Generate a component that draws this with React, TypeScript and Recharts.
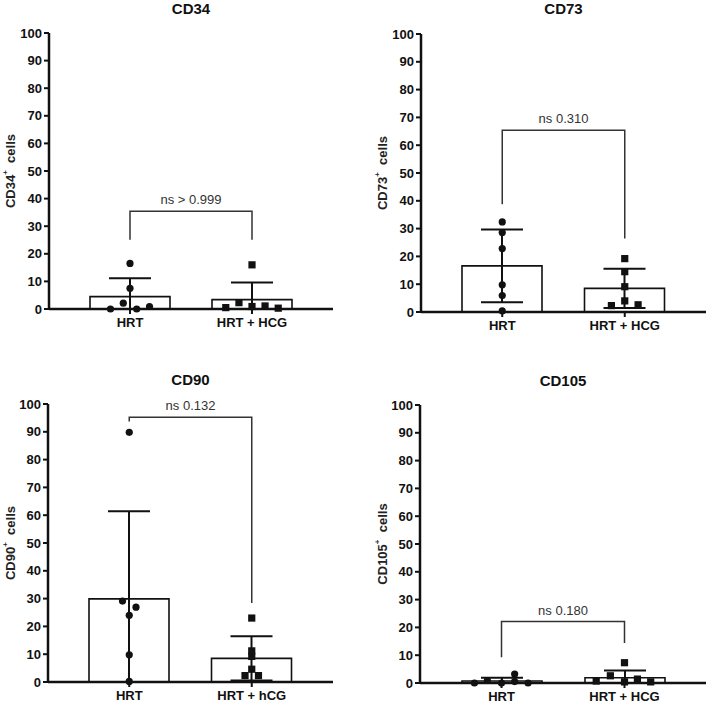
import React from 'react';
import { ComposedChart, Bar, ErrorBar, Scatter, XAxis, YAxis } from 'recharts';

const FONT = '"Liberation Sans", Arial, Helvetica, sans-serif';

const Y_TICKS = [0, 10, 20, 30, 40, 50, 60, 70, 80, 90, 100];
const GROUPS_TOP = ['HRT', 'HRT + HCG'];
const GROUPS_CD90 = ['HRT', 'HRT + hCG'];
const GROUPS_CD105 = ['HRT', 'HRT + HCG'];

// CD34
const CD34_HRT = [0, 2.1, 16.5, 7.5, 0, 0.9];
const CD34_HCG = [0.5, 2.3, 16.0, 0.9, 1.1, 0.3];
const CD34_MEAN = [4.5, 3.4];
const CD34_SD = [6.6, 6.2];
const CD34_BRACKET = [25.1, 35.4, 25.1];
const CD34_P = 'ns > 0.999';

// CD73
const CD73_HRT = [32.4, 28.6, 22.8, 9.8, 5.9, 0.4];
const CD73_HCG = [19.2, 14.5, 9.1, 4.0, 2.3, 2.6];
const CD73_MEAN = [16.6, 8.5];
const CD73_SD = [13.1, 7.1];
const CD73_BRACKET = [38.8, 65.4, 26.4];
const CD73_P = 'ns 0.310';

// CD90
const CD90_HRT = [89.8, 29.1, 26.9, 24.0, 9.8, 0.2];
const CD90_HCG = [23.0, 11.2, 9.2, 4.6, 2.3, 2.3];
const CD90_MEAN = [29.9, 8.5];
const CD90_SD = [31.5, 8.0];
const CD90_BRACKET = [93.7, 95.2, 28.4];
const CD90_P = 'ns 0.132';

// CD105
const CD105_HRT = [0, 0.9, 0, 3.2, 0.5, 0];
const CD105_HCG = [0.7, 2.6, 7.3, 0.4, 1.4, 0.4];
const CD105_MEAN = [0.7, 1.9];
const CD105_SD = [1.2, 2.6];
const CD105_BRACKET = [9.3, 22.1, 14.4];
const CD105_P = 'ns 0.180';

// horizontal spread of scatter points (in category units, layout only)
const SPREAD_34_HRT = [-0.16, -0.055, 0, 0, 0.055, 0.16];
const SPREAD_34_HCG = [-0.215, -0.107, 0, 0, 0.107, 0.215];
const SPREAD_73_HRT = [0, 0, 0, 0, 0, 0];
const SPREAD_73_HCG = [0, 0, 0, 0, -0.109, 0.109];
const SPREAD_90_HRT = [0, -0.055, 0.055, 0, 0, 0];
const SPREAD_90_HCG = [0, 0, 0, 0, -0.055, 0.055];
const SPREAD_105_HRT = [-0.22, -0.115, 0, 0.107, 0.107, 0.216];
const SPREAD_105_HCG = [-0.23, -0.115, 0, 0, 0.105, 0.213];

const INK = '#111';
const PAD = { left: 20, right: 20 };

const circleShape = (p: any) => <circle cx={p.cx} cy={p.cy} r={3.6} fill={INK} />;
const squareShape = (p: any) => <rect x={p.cx - 3.6} y={p.cy - 3.6} width={7.2} height={7.2} fill={INK} />;
const noShape = () => <g />;

type PanelProps = {
  title: string;
  marker: string;
  groups: string[];
  hrt: number[];
  hcg: number[];
  hrtSpread: number[];
  hcgSpread: number[];
  mean: number[];
  sd: number[];
  bracket: number[];
  pText: string;
  left: number;
  top: number;
  width: number;
  height: number;
  margin: { top: number; right: number; bottom: number; left: number };
  titleTop: number;
};

function Panel(props: PanelProps) {
  const { title, marker, groups, hrt, hcg, hrtSpread, hcgSpread, mean, sd, bracket, pText, left, top, width, height, margin, titleTop } = props;
  const barData = groups.map((g, i) => ({ group: g, mean: mean[i], err: [Math.min(sd[i], mean[i]), sd[i]] }));
  const hrtPts = hrt.map((v, i) => ({ x: 0 + hrtSpread[i], y: v }));
  const hcgPts = hcg.map((v, i) => ({ x: 1 + hcgSpread[i], y: v }));
  const bracketPts = [
    { x: 0, y: bracket[0] },
    { x: 0, y: bracket[1] },
    { x: 1, y: bracket[1] },
    { x: 1, y: bracket[2] },
  ];
  const labelPt = [{ x: 0.5, y: bracket[1] }];
  const plotLeft = margin.left + 40;
  const plotWidth = width - plotLeft - margin.right;

  const textShape = (p: any) => (
    <text x={p.cx} y={p.cy - 7} textAnchor="middle" fontFamily={FONT} fontSize={13} fill="#333">
      {pText}
    </text>
  );

  const yLabel = (p: any) => {
    const vb = p.viewBox || {};
    const cy = (vb.y || 0) + (vb.height || 0) / 2;
    const x = 10;
    return (
      <text
        x={x}
        y={cy}
        transform={`rotate(-90, ${x}, ${cy})`}
        textAnchor="middle"
        dominantBaseline="central"
        fontFamily={FONT}
        fontSize={13}
        fontWeight={700}
        fill="#222"
      >
        {marker}
        <tspan dy={-5} fontSize={8}>+</tspan>
        <tspan dy={5}>{'\u00a0\u00a0cells'}</tspan>
      </text>
    );
  };

  return (
    <div style={{ position: 'absolute', left, top, width, height }}>
      <div
        style={{
          position: 'absolute',
          left: plotLeft,
          width: plotWidth,
          top: titleTop,
          textAlign: 'center',
          fontFamily: FONT,
          fontWeight: 700,
          fontSize: 15,
          lineHeight: '15px',
          color: INK,
        }}
      >
        {title}
      </div>
      <ComposedChart width={width} height={height} data={barData} margin={margin}>
        <XAxis
          xAxisId={0}
          dataKey="group"
          type="category"
          padding={PAD}
          interval={0}
          height={20}
          axisLine={{ stroke: INK, strokeWidth: 2.5 }}
          tickLine={{ stroke: INK, strokeWidth: 2 }}
          tickSize={5}
          tickMargin={4}
          tick={{ fill: INK, fontSize: 13, fontWeight: 700, fontFamily: FONT }}
        />
        <XAxis xAxisId="num" type="number" dataKey="x" domain={[-0.5, 1.5]} hide padding={PAD} />
        <YAxis
          type="number"
          domain={[0, 100]}
          ticks={Y_TICKS}
          interval={0}
          width={40}
          axisLine={{ stroke: INK, strokeWidth: 2.5 }}
          tickLine={{ stroke: INK, strokeWidth: 2 }}
          tickSize={5}
          tickMargin={2}
          tick={{ fill: INK, fontSize: 13, fontWeight: 700, fontFamily: FONT }}
          label={{ content: yLabel }}
        />
        <Bar dataKey="mean" barSize={80} fill="#fff" stroke={INK} strokeWidth={1.6} isAnimationActive={false}>
          <ErrorBar dataKey="err" width={21} stroke={INK} strokeWidth={2} direction="y" isAnimationActive={false} />
        </Bar>
        <Scatter
          xAxisId="num"
          data={bracketPts}
          dataKey="y"
          line={{ stroke: '#333', strokeWidth: 1.5 }}
          shape={noShape}
          isAnimationActive={false}
        />
        <Scatter xAxisId="num" data={labelPt} dataKey="y" shape={textShape} isAnimationActive={false} />
        <Scatter xAxisId="num" data={hrtPts} dataKey="y" shape={circleShape} isAnimationActive={false} />
        <Scatter xAxisId="num" data={hcgPts} dataKey="y" shape={squareShape} isAnimationActive={false} />
      </ComposedChart>
    </div>
  );
}

export default function App() {
  return (
    <div style={{ position: 'absolute', left: 0, top: 0, width: 708, height: 704, background: '#fff', overflow: 'hidden' }}>
      <Panel
        title="CD34"
        marker="CD34"
        groups={GROUPS_TOP}
        hrt={CD34_HRT}
        hcg={CD34_HCG}
        hrtSpread={SPREAD_34_HRT}
        hcgSpread={SPREAD_34_HCG}
        mean={CD34_MEAN}
        sd={CD34_SD}
        bracket={CD34_BRACKET}
        pText={CD34_P}
        left={0}
        top={0}
        width={345}
        height={335}
        margin={{ top: 33, right: 12, bottom: 6, left: 9 }}
        titleTop={1}
      />
      <Panel
        title="CD73"
        marker="CD73"
        groups={GROUPS_TOP}
        hrt={CD73_HRT}
        hcg={CD73_HCG}
        hrtSpread={SPREAD_73_HRT}
        hcgSpread={SPREAD_73_HCG}
        mean={CD73_MEAN}
        sd={CD73_SD}
        bracket={CD73_BRACKET}
        pText={CD73_P}
        left={372}
        top={0}
        width={336}
        height={335}
        margin={{ top: 34, right: 2, bottom: 3, left: 9 }}
        titleTop={1}
      />
      <Panel
        title="CD90"
        marker="CD90"
        groups={GROUPS_CD90}
        hrt={CD90_HRT}
        hcg={CD90_HCG}
        hrtSpread={SPREAD_90_HRT}
        hcgSpread={SPREAD_90_HCG}
        mean={CD90_MEAN}
        sd={CD90_SD}
        bracket={CD90_BRACKET}
        pText={CD90_P}
        left={0}
        top={350}
        width={345}
        height={354}
        margin={{ top: 54, right: 12, bottom: 2, left: 8 }}
        titleTop={22}
      />
      <Panel
        title="CD105"
        marker="CD105"
        groups={GROUPS_CD105}
        hrt={CD105_HRT}
        hcg={CD105_HCG}
        hrtSpread={SPREAD_105_HRT}
        hcgSpread={SPREAD_105_HCG}
        mean={CD105_MEAN}
        sd={CD105_SD}
        bracket={CD105_BRACKET}
        pText={CD105_P}
        left={372}
        top={350}
        width={336}
        height={354}
        margin={{ top: 55, right: 2, bottom: 1, left: 8 }}
        titleTop={23}
      />
    </div>
  );
}
